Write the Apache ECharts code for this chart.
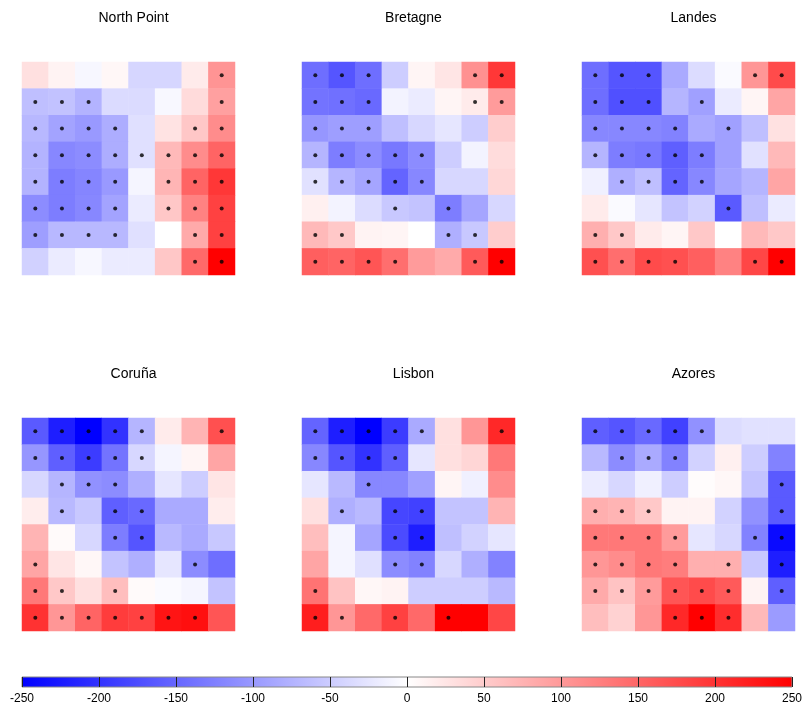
<!DOCTYPE html>
<html>
<head>
<meta charset="utf-8">
<script src="https://cdn.jsdelivr.net/npm/echarts@6/dist/echarts.min.js"></script>
<style>
  html, body { margin: 0; padding: 0; background: #fff; }
  #chart { width: 805px; height: 709px; }
</style>
</head>
<body>
<div id="chart"></div>
<script>
// Station names, in panel order (left to right, top to bottom)
const stations = ['North Point', 'Bretagne', 'Landes', 'Coruña', 'Lisbon', 'Azores'];

// 8x8 anomaly grids, row 0 at the top
const northPoint = [
  [30, 12, -8, 8, -40, -40, 20, 105],
  [-63, -60, -75, -35, -35, -7, 35, 93],
  [-70, -90, -100, -80, -30, 27, 55, 113],
  [-75, -118, -113, -80, -30, 69, 113, 152],
  [-75, -127, -120, -100, -10, 73, 152, 196],
  [-113, -127, -118, -90, -20, 55, 123, 186],
  [-95, -70, -70, -70, -30, 0, 83, 186],
  [-45, -20, -8, -20, -20, 55, 147, 250]
];
const bretagne = [
  [-142, -167, -142, -49, 10, 25, 108, 196],
  [-137, -140, -147, -12, -20, 10, 20, 98],
  [-103, -95, -95, -63, -39, -25, -49, 49],
  [-73, -127, -113, -132, -113, -49, -12, 34],
  [-29, -73, -88, -152, -118, -39, -39, 39],
  [15, -12, -34, -54, -59, -127, -88, -39],
  [69, 54, 12, 10, 0, -78, -54, 49],
  [157, 152, 167, 142, 98, 83, 162, 250]
];
const landes = [
  [-142, -167, -167, -83, -34, -5, 103, 176],
  [-142, -172, -172, -73, -93, -20, 10, 88],
  [-118, -118, -118, -123, -83, -93, -63, 29],
  [-73, -127, -132, -157, -127, -93, -29, 69],
  [-15, -78, -63, -152, -118, -88, -73, 88],
  [20, -5, -25, -59, -44, -162, -63, -20],
  [78, 54, 20, 10, 54, 0, 69, 54],
  [172, 142, 176, 172, 157, 123, 181, 250]
];
const coruna = [
  [-162, -221, -250, -201, -73, 20, 74, 172],
  [-103, -157, -191, -137, -39, -10, 10, 88],
  [-39, -73, -108, -113, -78, -25, -49, 25],
  [18, -69, -54, -157, -147, -83, -83, 18],
  [74, 5, -39, -127, -167, -69, -83, -54],
  [88, 25, 8, -59, -78, -25, -113, -142],
  [132, 54, 30, 64, 5, -5, -10, -59],
  [201, 103, 152, 191, 186, 230, 235, 167]
];
const lisbon = [
  [-152, -221, -250, -191, -83, 30, 103, 211],
  [-118, -167, -201, -157, -25, 30, 40, 132],
  [-25, -69, -118, -118, -93, 10, -15, 113],
  [30, -78, -69, -181, -186, -59, -59, 74],
  [64, -10, -88, -176, -221, -63, -44, -25],
  [88, -10, -30, -113, -123, -39, -78, -123],
  [137, 59, 8, 12, -49, -49, -49, -69],
  [221, 103, 147, 186, 147, 250, 250, 181]
];
const azores = [
  [-157, -167, -147, -186, -108, -34, -29, -29],
  [-69, -113, -83, -123, -44, 15, -49, -123],
  [-20, -39, -15, -49, 3, 8, -59, -162],
  [78, 74, 54, 12, 12, -44, -108, -162],
  [132, 132, 132, 98, -25, -39, -123, -240],
  [103, 113, 132, 127, 78, 78, -54, -221],
  [83, 59, 98, 167, 176, 162, 12, -157],
  [64, 44, 103, 211, 250, 206, 69, -98]
];

// Significant cells, per row: column indices carrying a dot
const northPointSig = [[7], [0,1,2,7], [0,1,2,3,6,7], [0,1,2,3,4,5,6,7], [0,1,2,3,5,6,7], [0,1,2,3,5,6,7], [0,1,2,3,6,7], [6,7]];
const bretagneSig = [[0,1,2,6,7], [0,1,2,6,7], [0,1,2], [0,1,2,3,4], [0,1,2,3,4], [3,5], [0,1,5,6], [0,1,2,3,6,7]];
const landesSig = [[0,1,2,6,7], [0,1,2,4], [0,1,2,3,5], [0,1,2,3,4], [1,2,3,4], [5], [0,1], [0,1,2,3,6,7]];
const corunaSig = [[0,1,2,3,4,7], [0,1,2,3,4], [1,2,3], [1,3,4], [3,4], [0,6], [0,1,3], [0,1,2,3,4,5,6]];
const lisbonSig = [[0,1,2,3,4,7], [0,1,2,3], [2], [1,3,4], [3,4], [3,4], [0], [0,1,3,5]];
const azoresSig = [[0,1,2,3,4], [1,2,3], [7], [0,1,2,7], [0,1,2,3,6,7], [0,1,2,3,5,7], [0,1,2,3,4,5,7], [3,4,5]];

// Colour bar
const scaleMin = -250;
const scaleMax = 250;
const scaleStep = 50;

const grids = [northPoint, bretagne, landes, coruna, lisbon, azores];
const sigs = [northPointSig, bretagneSig, landesSig, corunaSig, lisbonSig, azoresSig];
const cells = ['0', '1', '2', '3', '4', '5', '6', '7'];

const panelLeft = [22, 302, 582];
const panelTop = [62, 418];
const panelSize = 213;
const fontFamily = 'Liberation Sans, Arial, sans-serif';

const chart = echarts.init(document.getElementById('chart'), null, { renderer: 'canvas' });

const option = {
  animation: false,
  backgroundColor: '#ffffff',
  textStyle: { fontFamily: fontFamily },
  title: [],
  grid: [],
  xAxis: [],
  yAxis: [],
  series: [],
  visualMap: {
    show: false,
    type: 'continuous',
    min: scaleMin,
    max: scaleMax,
    dimension: 2,
    seriesIndex: [],
    inRange: { color: ['#0000ff', '#ffffff', '#ff0000'] }
  }
};

stations.forEach((name, i) => {
  const left = panelLeft[i % 3];
  const top = panelTop[Math.floor(i / 3)];
  option.title.push({
    text: name,
    left: left + panelSize / 2,
    top: top - 56,
    textAlign: 'center',
    textStyle: { fontSize: 14, fontWeight: 'normal', color: '#000', fontFamily: fontFamily }
  });
  option.grid.push({ left: left, top: top, width: panelSize, height: panelSize });
  option.xAxis.push({ type: 'category', data: cells, gridIndex: i, show: false });
  option.yAxis.push({ type: 'category', data: cells, gridIndex: i, inverse: true, show: false });

  const heat = [];
  grids[i].forEach((row, r) => row.forEach((v, c) => heat.push([c, r, v])));
  option.visualMap.seriesIndex.push(option.series.length);
  option.series.push({
    type: 'heatmap',
    xAxisIndex: i,
    yAxisIndex: i,
    data: heat,
    itemStyle: { borderWidth: 0 },
    emphasis: { disabled: true }
  });

  const dots = [];
  sigs[i].forEach((cols, r) => cols.forEach(c => dots.push([c, r])));
  option.series.push({
    type: 'scatter',
    xAxisIndex: i,
    yAxisIndex: i,
    data: dots,
    symbol: 'circle',
    symbolSize: 4,
    itemStyle: { color: '#000' },
    z: 5,
    silent: true
  });
});

// Colour bar: a value axis spanning the full scale with a gradient band on top
const barIndex = stations.length;
option.grid.push({ left: 22, top: 677, width: 775, height: 10 });
option.xAxis.push({
  type: 'value',
  gridIndex: barIndex,
  min: scaleMin,
  max: scaleMax,
  interval: scaleStep,
  z: 10,
  axisLine: { show: false },
  axisTick: { show: false },
  splitLine: { show: true, lineStyle: { color: '#222', width: 1 } },
  axisLabel: { fontSize: 12, color: '#000', margin: 6, fontFamily: fontFamily }
});
option.yAxis.push({ type: 'value', gridIndex: barIndex, min: 0, max: 1, show: false });
option.series.push({
  type: 'custom',
  xAxisIndex: barIndex,
  yAxisIndex: barIndex,
  data: [[scaleMin, 0, scaleMax, 1]],
  z: 1,
  silent: true,
  renderItem: function (params, api) {
    const p0 = api.coord([api.value(0), api.value(3)]);
    const p1 = api.coord([api.value(2), api.value(1)]);
    return {
      type: 'rect',
      shape: { x: p0[0], y: p0[1], width: p1[0] - p0[0], height: p1[1] - p0[1] },
      style: {
        fill: new echarts.graphic.LinearGradient(0, 0, 1, 0, [
          { offset: 0, color: '#0000ff' },
          { offset: 0.5, color: '#ffffff' },
          { offset: 1, color: '#ff0000' }
        ]),
        stroke: '#888',
        lineWidth: 1
      }
    };
  }
});

chart.setOption(option);
</script>
</body>
</html>
